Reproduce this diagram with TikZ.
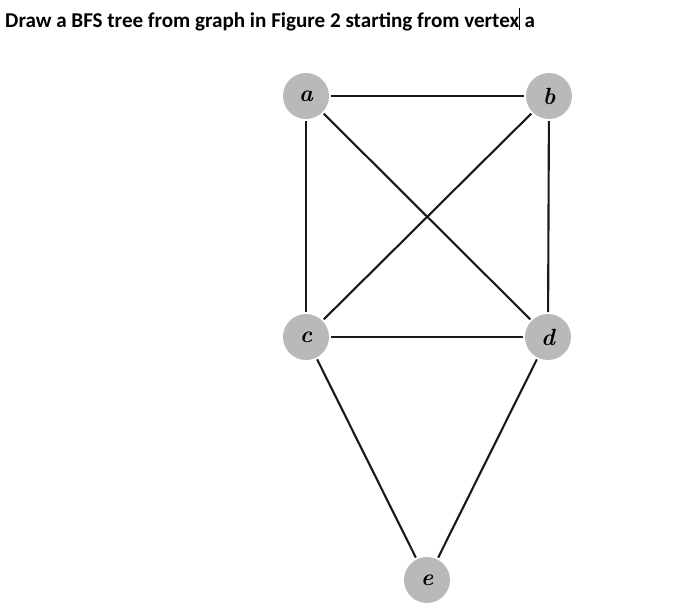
\documentclass[tikz,border=0pt]{standalone}
\usepackage{fontspec}
\newfontfamily\titlefont{Carlito}
\tikzset{
  vertex/.style={circle, fill=gray!55, minimum size=1.38cm, inner sep=0pt, outer sep=0.06cm,
    font=\fontsize{20}{20}\selectfont\bfseries\itshape},
  edge/.style={line width=1.8pt, black!90}
}
\begin{document}
\begin{tikzpicture}[x=0.03cm, y=-0.03cm]
        \useasboundingbox (0,0) rectangle (687,603);
        \node (title) at (5,27)[anchor=base west, inner sep=0pt]{\titlefont\fontsize{18}{18}\selectfont\bfseries Draw a BFS tree from graph in Figure 2 starting from vertex\rule[-0.15em]{0.6pt}{1.05em} a};
        \node (a) at (306,96)[vertex]{a};
        \node (b) at (549,96)[vertex]{b};
        \node (c) at (306,337)[vertex]{c};
        \node (d) at (548,337)[vertex]{d};
        \node (e) at (427,580)[vertex]{e};
        \draw[edge](a) --(b);
        \draw[edge](a) --(c);
        \draw[edge](a) --(d);
        \draw[edge](b) --(c);
        \draw[edge](b) --(d);
        \draw[edge](c) --(d);
        \draw[edge](c) --(e);
        \draw[edge](d) --(e);
        
    \end{tikzpicture}
\end{document}
